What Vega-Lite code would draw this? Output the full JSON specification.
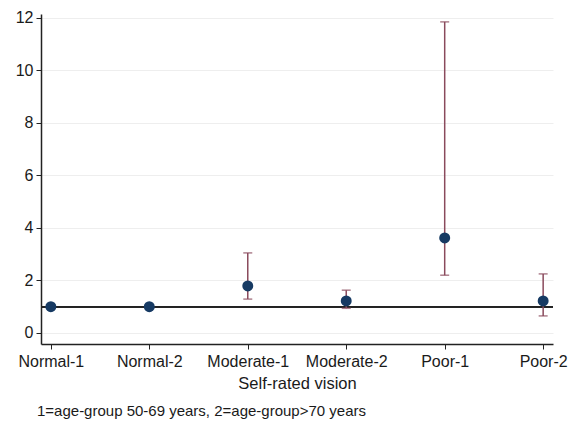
{
  "$schema": "https://vega.github.io/schema/vega-lite/v6.json",
  "width": 512,
  "height": 330,
  "autosize": {"type": "none"},
  "padding": {"left": 41, "top": 14, "right": 20, "bottom": 80},
  "background": "white",
  "config": {
    "font": "Liberation Sans",
    "view": {"stroke": null},
    "axis": {"labelFont": "Liberation Sans", "titleFont": "Liberation Sans", "labelFontSize": 16, "titleFontSize": 16.5, "labelColor": "#1a1a1a", "titleColor": "#1a1a1a", "titleFontWeight": "normal", "domainColor": "#222", "tickColor": "#222", "domainWidth": 1.5}
  },
  "title": {"text": "1=age-group 50-69 years, 2=age-group>70 years", "orient": "bottom", "anchor": "start", "frame": "group", "dx": -4, "offset": 12, "fontSize": 15, "fontWeight": "normal", "font": "Liberation Sans", "color": "#1a1a1a"},
  "data": {"values": [
    {"group": "Normal-1", "or": 1, "lo": null, "hi": null},
    {"group": "Normal-2", "or": 1, "lo": null, "hi": null},
    {"group": "Moderate-1", "or": 1.79, "lo": 1.29, "hi": 3.05},
    {"group": "Moderate-2", "or": 1.22, "lo": 0.94, "hi": 1.63},
    {"group": "Poor-1", "or": 3.62, "lo": 2.2, "hi": 11.85},
    {"group": "Poor-2", "or": 1.22, "lo": 0.65, "hi": 2.25}
  ]},
  "encoding": {
    "x": {"field": "group", "type": "ordinal", "sort": null,
      "scale": {"type": "point", "padding": 0.1, "domain": ["Normal-1", "Normal-2", "Moderate-1", "Moderate-2", "Poor-1", "Poor-2"]},
      "axis": {"title": "Self-rated vision", "labelAngle": 0, "grid": false, "tickSize": 5, "labelPadding": 4, "titlePadding": 6}}
  },
  "layer": [
    {
      "mark": {"type": "rule", "color": "#222", "strokeWidth": 1.5},
      "encoding": {"x": null, "y": {"datum": 1, "type": "quantitative"}}
    },
    {
      "transform": [{"filter": "datum.lo != null"}],
      "mark": {"type": "errorbar", "color": "#8a4a5c", "thickness": 1.5, "ticks": {"size": 9, "thickness": 1.5, "color": "#8a4a5c"}},
      "encoding": {
        "y": {"field": "lo", "type": "quantitative"},
        "y2": {"field": "hi"}
      }
    },
    {
      "mark": {"type": "point", "filled": true, "opacity": 1, "color": "#163a63", "size": 120},
      "encoding": {
        "y": {"field": "or", "type": "quantitative", "scale": {"domain": [-0.42, 12.15], "nice": false, "zero": false},
          "axis": {"title": null, "values": [0, 2, 4, 6, 8, 10, 12], "grid": true, "gridColor": "#eeeeee", "gridWidth": 1, "tickSize": 5, "labelPadding": 3}}
      }
    }
  ]
}
